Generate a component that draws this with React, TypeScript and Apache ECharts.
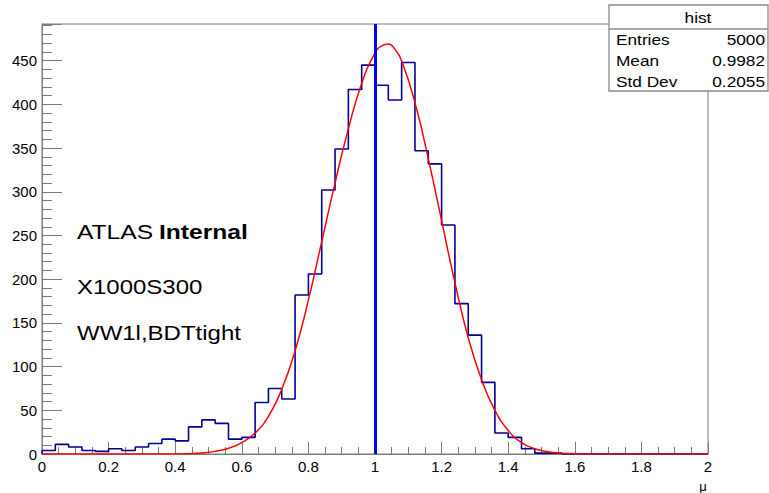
import React, { useEffect, useRef } from "react";
import * as echarts from "echarts";

// Histogram: 50 bins of width 0.04 from 0 to 2
const BIN_START = 0;
const BIN_WIDTH = 0.04;
const COUNTS = [
  4, 11, 8, 4, 3, 6, 4, 8, 12, 17,
  15, 31, 39, 35, 17, 19, 59, 75, 63, 182,
  206, 302, 349, 417, 445, 422, 405, 448, 347, 332,
  262, 172, 136, 82, 24, 19, 6, 1, 1, 0,
  0, 0, 0, 0, 0, 0, 0, 0, 0, 0,
];

// Gaussian fit curve
const FIT_X = [0, 0.4, 0.44, 0.48, 0.52, 0.56, 0.6, 0.64, 0.68, 0.72, 0.76, 0.8, 0.84, 0.88, 0.92, 0.96, 1.0, 1.02, 1.04, 1.06, 1.08, 1.12, 1.16, 1.2, 1.24, 1.28, 1.32, 1.36, 1.4, 1.44, 1.48, 1.52, 1.56, 1.6, 1.7, 2.0];
const FIT_Y = [0, 0, 0.4, 1.2, 3, 6.5, 13, 24, 43, 74, 118, 176, 243, 310, 372, 424, 459, 467, 469, 463, 450, 402, 338, 267, 196, 133, 85, 50, 27, 13, 6, 2.5, 1, 0.3, 0, 0];

const MARKER_X = 1.0;

const STATS_TITLE = "hist";
const STATS_LABELS = ["Entries", "Mean", "Std Dev"];
const STATS_VALUES = ["5000", "0.9982", "0.2055"];

const INFO_LINES = ["X1000S300", "WW1l,BDTtight"];

const FONT = "'Liberation Sans', Arial, Helvetica, sans-serif";
const AXIS_COLOR = "#7a7a7a";

export default function App() {
  const ref = useRef<HTMLDivElement>(null);
  useEffect(() => {
    if (!ref.current) return;
    const chart = echarts.init(ref.current, undefined, { renderer: "svg" });

    const histData: number[][] = [[BIN_START, 0]];
    COUNTS.forEach((c, i) => histData.push([+(BIN_START + i * BIN_WIDTH).toFixed(4), c]));
    histData.push([+(BIN_START + COUNTS.length * BIN_WIDTH).toFixed(4), COUNTS[COUNTS.length - 1]]);
    const fitData = FIT_X.map((x, i) => [x, FIT_Y[i]]);

    const isMult = (v: number, step: number) => Math.abs(v / step - Math.round(v / step)) < 1e-6;

    const statsRowY = [39, 60, 81];
    const graphic: any[] = [
      {
        type: "rect",
        shape: { x: 609, y: 5, width: 159, height: 86 },
        style: { fill: "#fff", stroke: "#8a8a8a", lineWidth: 1.3 },
        z: 100,
      },
      {
        type: "line",
        shape: { x1: 609, y1: 29, x2: 768, y2: 29 },
        style: { stroke: "#8a8a8a", lineWidth: 1.3 },
        z: 101,
      },
      {
        type: "text",
        x: 698,
        y: 17,
        scaleX: 1.15,
        style: { text: STATS_TITLE, font: `15px ${FONT}`, fill: "#000", textAlign: "center", textVerticalAlign: "middle" },
        z: 101,
      },
      ...STATS_LABELS.map((t, i) => ({
        type: "text",
        x: 616,
        y: statsRowY[i],
        scaleX: 1.15,
        style: { text: t, font: `15px ${FONT}`, fill: "#000", textAlign: "left", textVerticalAlign: "middle" },
        z: 101,
      })),
      ...STATS_VALUES.map((t, i) => ({
        type: "text",
        x: 765,
        y: statsRowY[i],
        scaleX: 1.15,
        style: { text: t, font: `15px ${FONT}`, fill: "#000", textAlign: "right", textVerticalAlign: "middle" },
        z: 101,
      })),
      {
        type: "text",
        x: 77,
        y: 232,
        scaleX: 1.23,
        style: { text: "ATLAS", font: `20px ${FONT}`, fill: "#000", textAlign: "left", textVerticalAlign: "middle" },
        z: 50,
      },
      {
        type: "text",
        x: 159,
        y: 232,
        scaleX: 1.23,
        style: { text: "Internal", font: `bold 20px ${FONT}`, fill: "#000", textAlign: "left", textVerticalAlign: "middle" },
        z: 50,
      },
      ...INFO_LINES.map((t, i) => ({
        type: "text",
        x: 77,
        y: [287, 333][i],
        scaleX: 1.2,
        style: { text: t, font: `20px ${FONT}`, fill: "#000", textAlign: "left", textVerticalAlign: "middle" },
        z: 50,
      })),
      {
        type: "text",
        x: 703,
        y: 486,
        style: { text: "μ", font: `13px ${FONT}`, fill: "#000", textAlign: "center", textVerticalAlign: "middle" },
        z: 50,
      },
    ];

    const option: any = {
      animation: false,
      backgroundColor: "#fff",
      grid: { left: 42, right: 61, top: 24, bottom: 39, show: true, borderColor: AXIS_COLOR, borderWidth: 1, backgroundColor: "transparent" },
      xAxis: [
        {
          type: "value",
          min: 0,
          max: 2,
          interval: 0.05,
          position: "bottom",
          axisLine: { show: true, lineStyle: { color: AXIS_COLOR, width: 1 } },
          axisTick: { show: true, inside: true, length: 7, lineStyle: { color: AXIS_COLOR } },
          axisLabel: {
            show: true,
            interval: 0,
            margin: 5,
            color: "#000",
            fontSize: 15,
            fontFamily: FONT,
            formatter: (v: number) => (isMult(v, 0.2) ? String(Number(v.toFixed(1))) : ""),
          },
          splitLine: { show: false },
        },
        {
          type: "value",
          min: 0,
          max: 2,
          interval: 0.2,
          position: "bottom",
          offset: 0,
          axisLine: { show: false },
          axisTick: { show: true, inside: true, length: 12, lineStyle: { color: AXIS_COLOR } },
          axisLabel: { show: false },
          splitLine: { show: false },
        },
      ],
      yAxis: [
        {
          type: "value",
          min: 0,
          max: 492,
          interval: 10,
          position: "left",
          axisLine: { show: true, lineStyle: { color: AXIS_COLOR, width: 1 } },
          axisTick: { show: true, inside: true, length: 10, lineStyle: { color: AXIS_COLOR } },
          axisLabel: {
            show: true,
            interval: 0,
            margin: 5,
            color: "#000",
            fontSize: 15,
            fontFamily: FONT,
            formatter: (v: number) => (isMult(v, 50) && v <= 450 ? String(Math.round(v)) : ""),
          },
          splitLine: { show: false },
        },
        {
          type: "value",
          min: 0,
          max: 492,
          interval: 50,
          position: "left",
          offset: 0,
          axisLine: { show: false },
          axisTick: { show: true, inside: true, length: 20, lineStyle: { color: AXIS_COLOR } },
          axisLabel: { show: false },
          splitLine: { show: false },
        },
      ],
      series: [
        {
          name: "hist",
          type: "line",
          xAxisIndex: 0,
          yAxisIndex: 0,
          data: histData,
          step: "end",
          symbol: "none",
          lineStyle: { color: "#000099", width: 1.6 },
          z: 2,
        },
        {
          name: "fit",
          type: "line",
          xAxisIndex: 0,
          yAxisIndex: 0,
          data: fitData,
          smooth: 0.5,
          symbol: "none",
          lineStyle: { color: "#ff0000", width: 1.5 },
          z: 3,
        },
        {
          name: "marker",
          type: "line",
          xAxisIndex: 0,
          yAxisIndex: 0,
          data: [],
          z: 4,
          markLine: {
            silent: true,
            symbol: ["none", "none"],
            label: { show: false },
            lineStyle: { color: "#0000ff", width: 3, type: "solid" },
            data: [{ xAxis: MARKER_X }],
          },
        },
      ],
      graphic,
    };

    chart.setOption(option);
    return () => chart.dispose();
  }, []);

  return <div ref={ref} style={{ position: "absolute", left: 0, top: 0, width: 769, height: 493 }} />;
}
